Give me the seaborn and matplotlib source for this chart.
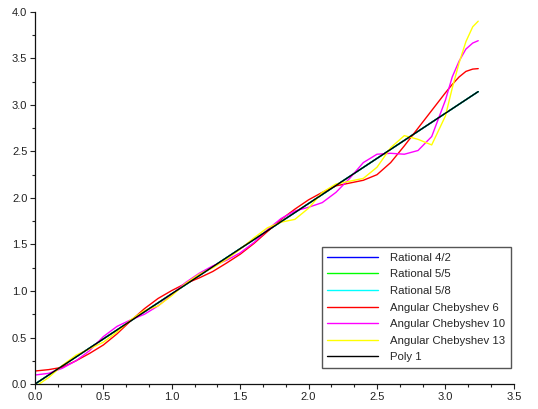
import pandas as pd
import matplotlib
matplotlib.use("Agg")
import matplotlib.pyplot as plt
from matplotlib.ticker import MultipleLocator, FormatStrFormatter
import seaborn as sns

sns.set_theme(style="ticks")
plt.rcParams['font.family'] = ['Liberation Sans', 'DejaVu Sans']

# values
x_line = [0.0, 3.24]
y_line = [0.0, 3.143]

x_cheb = [0.0, 0.1, 0.2, 0.3, 0.4, 0.5, 0.6, 0.7, 0.8, 0.9, 1.0, 1.1, 1.2, 1.3,
          1.4, 1.5, 1.6, 1.7, 1.8, 1.9, 2.0, 2.1, 2.2, 2.3, 2.4, 2.5, 2.6, 2.7,
          2.8, 2.9, 3.0, 3.05, 3.1, 3.15, 3.2, 3.24]

y_cheb6 = [0.14, 0.155, 0.18, 0.25, 0.33, 0.42, 0.54, 0.68, 0.81, 0.92, 1.005,
           1.08, 1.14, 1.21, 1.30, 1.395, 1.51, 1.64, 1.77, 1.88, 1.98, 2.06,
           2.13, 2.16, 2.19, 2.25, 2.38, 2.56, 2.75, 2.94, 3.13, 3.22, 3.30,
           3.36, 3.385, 3.39]

y_cheb10 = [0.097, 0.115, 0.17, 0.25, 0.36, 0.51, 0.62, 0.69, 0.75, 0.84, 0.96,
            1.09, 1.19, 1.27, 1.33, 1.41, 1.52, 1.66, 1.78, 1.86, 1.90, 1.95,
            2.06, 2.21, 2.38, 2.47, 2.48, 2.47, 2.51, 2.66, 3.05, 3.30, 3.47,
            3.60, 3.665, 3.69]

y_cheb13 = [-0.03, 0.07, 0.20, 0.31, 0.38, 0.45, 0.56, 0.69, 0.79, 0.84, 0.95,
            1.08, 1.18, 1.25, 1.34, 1.45, 1.57, 1.68, 1.74, 1.77, 1.89, 2.06,
            2.15, 2.18, 2.21, 2.33, 2.54, 2.67, 2.63, 2.57, 2.88, 3.18, 3.45,
            3.68, 3.84, 3.90]

labels = ['Rational 4/2', 'Rational 5/5', 'Rational 5/8', 'Angular Chebyshev 6',
          'Angular Chebyshev 10', 'Angular Chebyshev 13', 'Poly 1']
colors = ['#0000ff', '#00ff00', '#00ffff', '#ff0000', '#ff00ff', '#ffff00', '#000000']

series = {
    'Rational 4/2': (x_line, y_line),
    'Rational 5/5': (x_line, y_line),
    'Rational 5/8': (x_line, y_line),
    'Angular Chebyshev 6': (x_cheb, y_cheb6),
    'Angular Chebyshev 10': (x_cheb, y_cheb10),
    'Angular Chebyshev 13': (x_cheb, y_cheb13),
    'Poly 1': (x_line, y_line),
}
frames = [pd.DataFrame({'x': xs, 'y': ys, 'curve': name}) for name, (xs, ys) in series.items()]
df = pd.concat(frames, ignore_index=True)

fig = plt.figure(figsize=(5.38, 4.09), dpi=100)
ax = fig.add_axes([0.065, 0.061, 0.89, 0.910])

sns.lineplot(data=df, x='x', y='y', hue='curve', hue_order=labels,
             palette=dict(zip(labels, colors)), estimator=None, sort=False,
             linewidth=1.0, ax=ax)

ax.set_xlim(0, 3.5)
ax.set_ylim(0, 4.0)
ax.set_xlabel('')
ax.set_ylabel('')
ax.xaxis.set_major_locator(MultipleLocator(0.5))
ax.xaxis.set_minor_locator(MultipleLocator(0.5 / 3))
ax.yaxis.set_major_locator(MultipleLocator(0.5))
ax.yaxis.set_minor_locator(MultipleLocator(0.25))
ax.xaxis.set_major_formatter(FormatStrFormatter('%.1f'))
ax.yaxis.set_major_formatter(FormatStrFormatter('%.1f'))
ax.tick_params(which='major', length=3.5, width=0.8, labelsize=8, pad=2, colors='#222222')
ax.tick_params(which='minor', length=2.2, width=0.8, colors='#222222')
for s in ['left', 'bottom']:
    ax.spines[s].set_linewidth(0.9)
    ax.spines[s].set_color('#111111')
sns.despine(ax=ax)

leg = ax.legend(loc='lower left', bbox_to_anchor=(0.599, 0.043), borderaxespad=0,
                fontsize=8.2, handlelength=4.4, handletextpad=1.1, labelspacing=0.58,
                frameon=True, fancybox=False, framealpha=1, edgecolor='#555555',
                borderpad=0.5)
leg.get_frame().set_linewidth(1.0)

plt.savefig('out.png', dpi=100)
plt.close()
